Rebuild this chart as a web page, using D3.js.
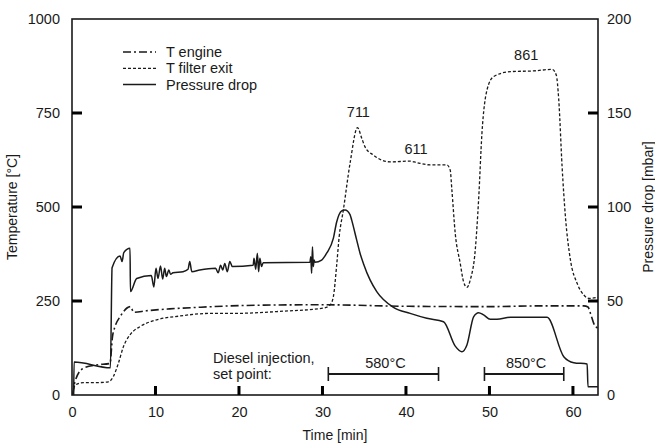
<!DOCTYPE html>
<html>
<head>
<meta charset="utf-8">
<script src="https://cdn.jsdelivr.net/npm/d3@7"></script>
<style>
  body { margin: 0; background: #fff; }
  svg { font-family: "Liberation Sans", Arial, sans-serif; }
  .axis text { font-size: 14.5px; fill: #1a1a1a; }
  .axis path { display: none; }
  .label { font-size: 14.5px; fill: #1a1a1a; }
  .title { font-size: 14px; fill: #1a1a1a; }
</style>
</head>
<body>
<svg id="chart"></svg>
<script>
// values: [time in min, value]
const tEngine = [
  [0.1, 0], [0.35, 35], [1.35, 71], [2.95, 80], [4.55, 84], [4.85, 155], [5.15, 182],
  [5.75, 208], [7.0, 235], [7.4, 220], [8.9, 224], [11.7, 229], [15, 233], [19, 237],
  [23, 239], [30, 240], [40, 236], [50, 235], [56, 237], [61.3, 237], [61.8, 234],
  [62.1, 217], [62.5, 190], [63, 177]
];
const tFilterExit = [
  [0.1, 4], [0.35, 26], [1.35, 33], [2.95, 33], [4.35, 35], [4.95, 49], [5.55, 84],
  [6.15, 128], [6.95, 160], [8.15, 182], [10.15, 200], [12.9, 210], [16.5, 217],
  [19.3, 217], [25.3, 223], [30.1, 231], [30.9, 239], [31.3, 261], [31.7, 345],
  [32.0, 421], [32.5, 492], [33.3, 616], [34.2, 711], [34.7, 683], [35.1, 660],
  [36.1, 638], [38.1, 620], [40.5, 622], [41.3, 618], [42.9, 612], [44.9, 612],
  [45.3, 598], [45.5, 545], [45.9, 430], [46.5, 350], [46.9, 301], [47.3, 286],
  [47.7, 306], [48.3, 386], [48.7, 519], [49.1, 696], [49.7, 811], [50.5, 847],
  [52.5, 860], [55.3, 862], [57.5, 866], [58.0, 851], [58.3, 785], [58.7, 607],
  [59.1, 474], [59.7, 359], [60.5, 297], [61.3, 266], [61.9, 257], [63, 260]
];
const pressureDrop = [
  [0.2, 0], [0.25, 17.5], [4.6, 14.5], [4.8, 67.7], [5.75, 74], [6.0, 71], [6.2, 75.7],
  [6.95, 78], [7.0, 55], [7.75, 62], [9.5, 63.5], [9.8, 57.5], [10.06, 67.4], [10.3, 62],
  [10.6, 68.6], [10.86, 61.7], [11.1, 67.4], [11.3, 63], [11.6, 66.5], [11.8, 64.2],
  [12.1, 65], [13.3, 65.6], [13.9, 66.9], [14.1, 71], [14.35, 65.6], [15.3, 66.5],
  [17.2, 67.4], [17.5, 65], [17.8, 69], [18.05, 66.5], [18.3, 70], [18.6, 65.6],
  [18.9, 71], [19.2, 68.3], [21.7, 69], [21.8, 72.7], [22.0, 66.9], [22.2, 75.4],
  [22.35, 65.6], [22.5, 72.7], [22.7, 68.3], [22.9, 70.4], [28.5, 70.6], [28.6, 73.6],
  [28.7, 64.7], [28.8, 78.9], [28.9, 68.3], [29.0, 71.8], [29.1, 70.6], [29.9, 71.8],
  [30.5, 75.4], [31.3, 83.3], [31.7, 92], [32.3, 97.9], [32.7, 98.4], [33.3, 96],
  [33.5, 93], [34.1, 82.4], [34.5, 75.4], [34.9, 70], [35.7, 61.2], [36.5, 55],
  [38.5, 46.6], [40.5, 43.4], [42.5, 40.8], [44.5, 39], [45.9, 26], [46.7, 23],
  [47.3, 26.6], [48.1, 41.6], [48.7, 43.8], [49.3, 42.6], [50.1, 40.3], [50.9, 40.3],
  [52.5, 41.3], [56.9, 41.3], [58.9, 20.4], [60.1, 17.2], [61.7, 16.5], [61.8, 4.4],
  [63, 4.4]
];

// peak annotations: [time, temperature]
const peakLabels = [[34.3, 711], [41.2, 611], [54.4, 861]];

// diesel injection set points: [start, end, label]
const setPoints = [[30.7, 43.9, '580°C'], [49.4, 58.9, '850°C']];

const timeTicks = [0, 10, 20, 30, 40, 50, 60];
const tempTicks = [0, 250, 500, 750, 1000];
const pressTicks = [0, 50, 100, 150, 200];

const legendItems = [
  ['T engine', '8,3,2,3', 1.6],
  ['T filter exit', '3,2', 1.3],
  ['Pressure drop', null, 1.5]
];

const config = {
  width: 655, height: 447,
  margin: {top: 19, right: 57, bottom: 52, left: 72}
};
const w = config.width - config.margin.left - config.margin.right;
const h = config.height - config.margin.top - config.margin.bottom;
const ink = '#1a1a1a';

const svg = d3.select('#chart')
  .attr('width', config.width)
  .attr('height', config.height);

const g = svg.append('g')
  .attr('transform', `translate(${config.margin.left},${config.margin.top})`);

const x = d3.scaleLinear().domain([0, 63]).range([0, w]);
const yT = d3.scaleLinear().domain([0, 1000]).range([h, 0]);
const yP = d3.scaleLinear().domain([0, 200]).range([h, 0]);

// tick labels from the axes
g.append('g').attr('class', 'axis')
  .attr('transform', `translate(0,${h})`)
  .call(d3.axisBottom(x).tickValues(timeTicks).tickFormat(d3.format('d'))
    .tickSize(0).tickPadding(12));
g.append('g').attr('class', 'axis')
  .call(d3.axisLeft(yT).tickValues(tempTicks).tickFormat(d3.format('d'))
    .tickSize(0).tickPadding(12));
g.append('g').attr('class', 'axis')
  .attr('transform', `translate(${w},0)`)
  .call(d3.axisRight(yP).tickValues(pressTicks).tickFormat(d3.format('d'))
    .tickSize(0).tickPadding(9));

g.append('rect')
  .attr('width', w).attr('height', h)
  .attr('fill', 'none')
  .attr('stroke', ink)
  .attr('stroke-width', 1.6);

// inward tick marks, drawn on top of the frame
const tickPath = [
  ...timeTicks.slice(1).map(d => `M${x(d)},${h}V${h - 9}`),
  ...tempTicks.slice(1, -1).map(d => `M0,${yT(d)}H10`),
  ...pressTicks.slice(1, -1).map(d => `M${w},${yP(d)}H${w - 10}`)
].join('');
g.append('path')
  .attr('d', tickPath)
  .attr('fill', 'none')
  .attr('stroke', '#000')
  .attr('stroke-width', 3);

// axis titles
svg.append('text').attr('class', 'title')
  .attr('transform', `translate(17,${config.margin.top + h / 2}) rotate(-90)`)
  .attr('text-anchor', 'middle')
  .text('Temperature [°C]');
svg.append('text').attr('class', 'title')
  .attr('transform', `translate(653,${config.margin.top + h / 2}) rotate(-90)`)
  .attr('text-anchor', 'middle')
  .text('Pressure drop [mbar]');
svg.append('text').attr('class', 'title')
  .attr('x', config.margin.left + w / 2).attr('y', 440)
  .attr('text-anchor', 'middle')
  .text('Time [min]');

// series
const lineT = d3.line().x(d => x(d[0])).y(d => yT(d[1])).curve(d3.curveMonotoneX);
const lineP = d3.line().x(d => x(d[0])).y(d => yP(d[1])).curve(d3.curveMonotoneX);

g.append('path').datum(tFilterExit)
  .attr('d', lineT)
  .attr('fill', 'none').attr('stroke', ink)
  .attr('stroke-width', 1.3).attr('stroke-dasharray', '3,2');

g.append('path').datum(tEngine)
  .attr('d', lineT)
  .attr('fill', 'none').attr('stroke', ink)
  .attr('stroke-width', 1.6).attr('stroke-dasharray', '8,3,2,3');

g.append('path').datum(pressureDrop)
  .attr('d', lineP)
  .attr('fill', 'none').attr('stroke', ink)
  .attr('stroke-width', 1.5);

// peak labels
g.selectAll('.peak')
  .data(peakLabels)
  .join('text')
  .attr('class', 'label peak')
  .attr('x', d => x(d[0]))
  .attr('y', d => yT(d[1]) - 11)
  .attr('text-anchor', 'middle')
  .text(d => d[1]);

// set point annotation
const barY = h - 21;
g.append('text').attr('class', 'label')
  .attr('x', 141).attr('y', h - 32)
  .text('Diesel injection,');
g.append('text').attr('class', 'label')
  .attr('x', 141).attr('y', h - 16)
  .text('set point:');

const sp = g.selectAll('.setpoint').data(setPoints).join('g')
  .attr('class', 'setpoint')
  .attr('stroke', ink);
sp.append('line')
  .attr('x1', d => x(d[0])).attr('x2', d => x(d[1]))
  .attr('y1', barY).attr('y2', barY)
  .attr('stroke-width', 1.8);
sp.append('line')
  .attr('x1', d => x(d[0])).attr('x2', d => x(d[0]))
  .attr('y1', barY - 7).attr('y2', barY + 7)
  .attr('stroke-width', 1.6);
sp.append('line')
  .attr('x1', d => x(d[1])).attr('x2', d => x(d[1]))
  .attr('y1', barY - 7).attr('y2', barY + 7)
  .attr('stroke-width', 1.6);
sp.append('text')
  .attr('class', 'label')
  .attr('stroke', 'none')
  .attr('x', d => (x(d[0]) + x(d[1])) / 2 + 2)
  .attr('y', barY - 6)
  .attr('text-anchor', 'middle')
  .text(d => d[2]);

// legend
const legend = g.append('g').attr('transform', 'translate(51,33)');
legendItems.forEach((item, i) => {
  const row = legend.append('g').attr('transform', `translate(0,${i * 16.3})`);
  row.append('line')
    .attr('x1', 0).attr('x2', 33)
    .attr('stroke', ink)
    .attr('stroke-width', item[2])
    .attr('stroke-dasharray', item[1]);
  row.append('text')
    .attr('class', 'label')
    .attr('x', 43).attr('dy', '0.35em')
    .text(item[0]);
});
</script>
</body>
</html>
